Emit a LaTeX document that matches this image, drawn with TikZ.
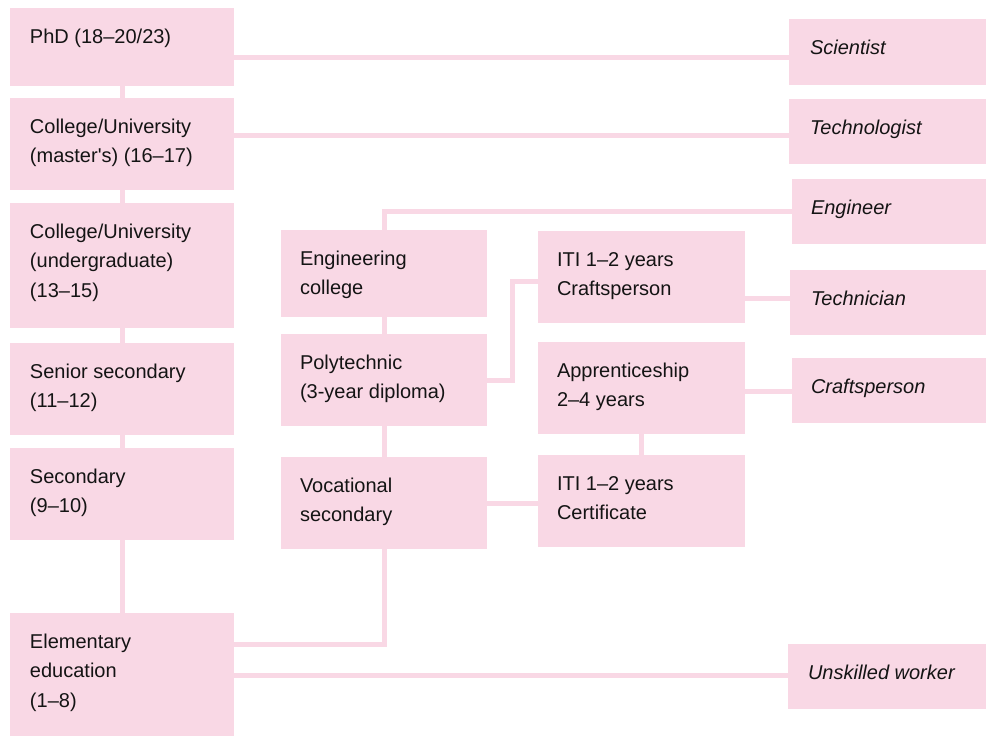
\documentclass[tikz,border=0pt]{standalone}
\usepackage{fontspec}
\setmainfont{Liberation Sans}
\newfontfamily\noligfont{Liberation Sans}[Ligatures=TeXOff]
\usetikzlibrary{backgrounds}
\definecolor{pinkbox}{RGB}{249,216,229}
\definecolor{txtcol}{RGB}{20,20,20}
\newcommand{\boxtext}[4]{\parbox[t][#1][t]{#2}{\fontsize{20pt}{29.5pt}\selectfont\leftskip=#3\relax\rule{0pt}{35pt}#4}}
\tikzset{
  box/.style={fill=pinkbox, inner sep=0pt, outer sep=0pt, anchor=north west, text=txtcol},
  conn/.style={draw=pinkbox, line width=5pt},
}
\begin{document}
\begin{tikzpicture}[x=1pt,y=-1pt]
\useasboundingbox (0,0) rectangle (986,736);
% left column
\node[box] (phd) at (10,8)   {\boxtext{78pt}{224pt}{20pt}{PhD (18–20/23)}};
\node[box] (mas) at (10,98)  {\boxtext{92pt}{224pt}{20pt}{College/University\\(master{\noligfont'}s) (16–17)}};
\node[box] (ug)  at (10,203) {\boxtext{125pt}{224pt}{20pt}{College/University\\(undergraduate)\\(13–15)}};
\node[box] (sen) at (10,343) {\boxtext{92pt}{224pt}{20pt}{Senior secondary\\(11–12)}};
\node[box] (sec) at (10,448) {\boxtext{92pt}{224pt}{20pt}{Secondary\\(9–10)}};
\node[box] (ele) at (10,613) {\boxtext{123pt}{224pt}{20pt}{Elementary\\education\\(1–8)}};
% middle column
\node[box] (eng)  at (281,230) {\boxtext{87pt}{206pt}{19pt}{Engineering\\college}};
\node[box] (poly) at (281,334) {\boxtext{92pt}{206pt}{19pt}{Polytechnic\\(3-year diploma)}};
\node[box] (voc)  at (281,457) {\boxtext{92pt}{206pt}{19pt}{Vocational\\secondary}};
% second middle column
\node[box] (itc) at (538,231) {\boxtext{92pt}{207pt}{19pt}{ITI 1–2 years\\Craftsperson}};
\node[box] (app) at (538,342) {\boxtext{92pt}{207pt}{19pt}{Apprenticeship\\2–4 years}};
\node[box] (iti) at (538,455) {\boxtext{92pt}{207pt}{19pt}{ITI 1–2 years\\Certificate}};
% right column
\node[box] (sci)   at (789,19)  {\boxtext{66pt}{197pt}{21pt}{\itshape Scientist}};
\node[box] (tec)   at (789,99)  {\boxtext{65pt}{197pt}{21pt}{\itshape Technologist}};
\node[box] (engr)  at (792,179) {\boxtext{65pt}{194pt}{19pt}{\itshape Engineer}};
\node[box] (tech)  at (790,270) {\boxtext{65pt}{196pt}{21pt}{\itshape Technician}};
\node[box] (craft) at (792,358) {\boxtext{65pt}{194pt}{19pt}{\itshape Craftsperson}};
\node[box] (uns)   at (788,644) {\boxtext{65pt}{198pt}{20pt}{\itshape Unskilled worker}};
% helper coordinates
\coordinate (h57)  at (0,57);
\coordinate (h135) at (0,135);
\coordinate (pj)   at (512,281);
\coordinate (h298) at (0,298);
\coordinate (h391) at (0,391);
\coordinate (h644) at (0,644);
\coordinate (h675) at (0,675);
\begin{scope}[on background layer]
\draw[conn] (phd.south) -- (ele.north);
\draw[conn] (phd.east |- h57) -- (sci.west |- h57);
\draw[conn] (mas.east |- h135) -- (tec.west |- h135);
\draw[conn] (eng.north) |- (engr.west);
\draw[conn] (eng.south) -- (voc.north);
\draw[conn] (voc.south) |- (ele.east |- h644);
\draw[conn] (poly.east) -| (pj) -- (itc.west |- pj);
\draw[conn] (itc.east |- h298) -- (tech.west |- h298);
\draw[conn] (app.east |- h391) -- (craft.west |- h391);
\draw[conn] (app.south) -- (iti.north);
\draw[conn] (voc.east) -- (iti.west |- voc.east);
\draw[conn] (ele.east |- h675) -- (uns.west |- h675);
\end{scope}
\end{tikzpicture}
\end{document}
